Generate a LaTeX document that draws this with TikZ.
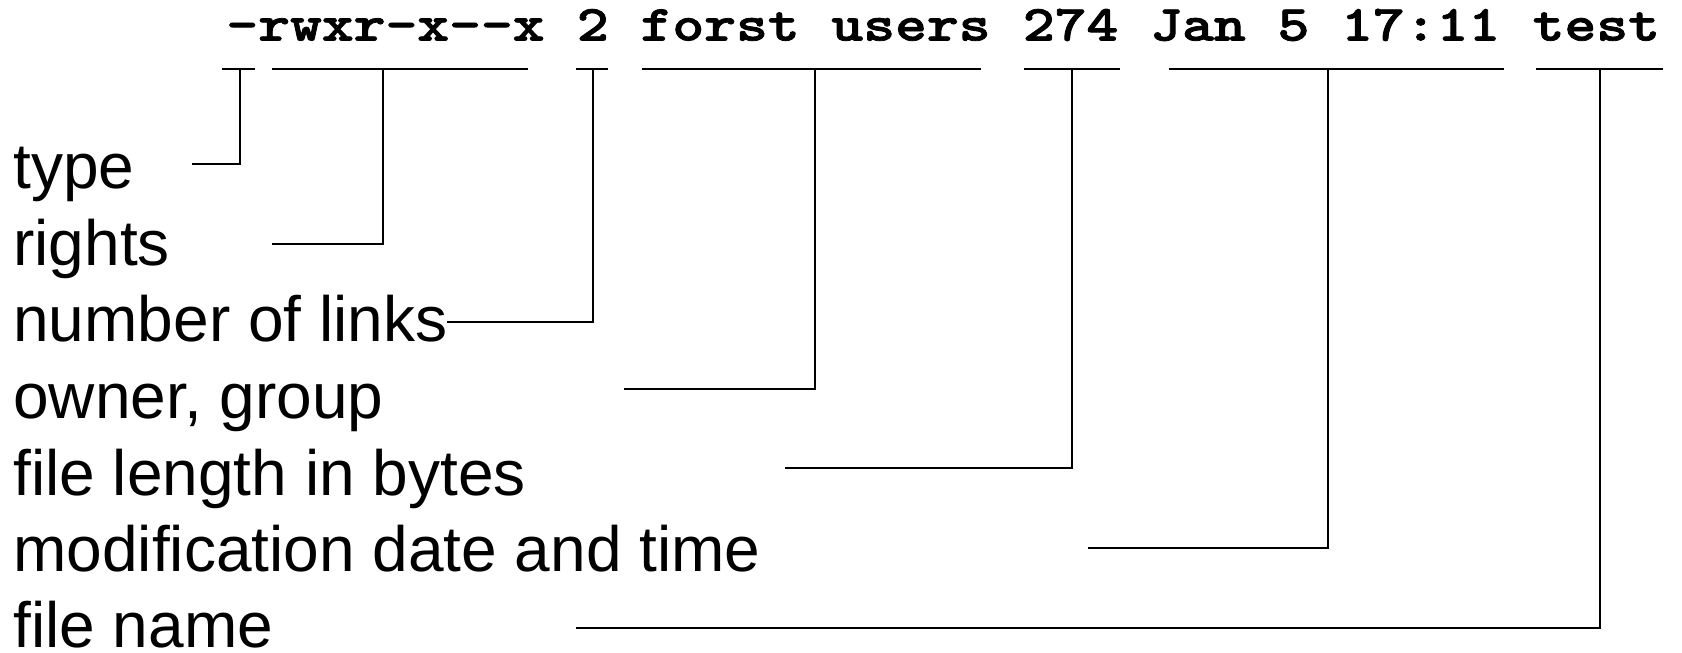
\documentclass[tikz,border=0pt]{standalone}
\usepackage{fontspec}
\setmainfont{Liberation Sans}
% heavier typewriter face for the ls -l line
\newfontfamily\lscode[Extension=.otf,FakeBold=1.5]{lmmonolt10-bold}
\begin{document}
\begin{tikzpicture}[x=0.5pt,y=-0.5pt,
  codefield/.style={anchor=base west,inner sep=0pt,
    font={\lscode\fontsize{25.25pt}{30pt}\selectfont}},
  desc/.style={anchor=base west,inner sep=0pt,
    font={\fontsize{32pt}{38pt}\selectfont}},
  leader/.style={line width=1pt,line join=miter}]
\useasboundingbox (0,0) rectangle (1682,653);

% widened typewriter text for the ls -l line
\newcommand{\lsfield}[1]{\scalebox{1.2}[1]{#1}}

% the ls -l line, one node per field (monospaced pitch 31.86)
\node[codefield] (fType)   at (226,40.5)    {\lsfield{-}};
\node[codefield] (fRights) at (257.86,40.5) {\lsfield{rwxr-x--x}};
\node[codefield] (fLinks)  at (576.5,40.5)  {\lsfield{2}};
\node[codefield] (fOwner)  at (640.2,40.5)  {\lsfield{forst users}};
\node[codefield] (fSize)   at (1022.5,40.5) {\lsfield{274}};
\node[codefield] (fDate)   at (1149.9,40.5) {\lsfield{Jan 5 17:11}};
\node[codefield] (fName)   at (1532.3,40.5) {\lsfield{test}};

% field descriptions
\node[desc] (dType)   at (13,188.5) {type};
\node[desc] (dRights) at (13,265)   {rights};
\node[desc] (dLinks)  at (13,341.5) {number of links};
\node[desc] (dOwner)  at (13,418)   {owner, group};
\node[desc] (dSize)   at (13,495)   {file length in bytes};
\node[desc] (dDate)   at (13,571.5) {modification date and time};
\node[desc] (dName)   at (13,647)   {file name};

% underline brackets: name / left / right / stem x / leader y / leader start
\foreach \n/\l/\r/\m/\y/\s in {
    type/222/255/240/164/192,
    rights/272/528/383/244/272,
    links/576/608/592.5/322/447,
    owner/642/981/815/389/624,
    size/1024/1120/1072/468/785,
    date/1169/1504/1328/548/1088}{
  \coordinate (\n-L) at (\l,69);
  \coordinate (\n-R) at (\r,69);
  \coordinate (\n-M) at (\m,69);
  \coordinate (\n-S) at (\s,\y);
  \draw[leader] (\n-L) -- (\n-R);
  \draw[leader] (\n-S) -| (\n-M);
}
% file name bracket, drawn a little heavier on top
\coordinate (name-L) at (1536,69);
\coordinate (name-R) at (1663,69);
\coordinate (name-M) at (1600,69);
\coordinate (name-S) at (576,628);
\draw[leader,line width=1.4pt] (name-L) -- (name-R);
\draw[leader] (name-S) -| (name-M);
\end{tikzpicture}
\end{document}
